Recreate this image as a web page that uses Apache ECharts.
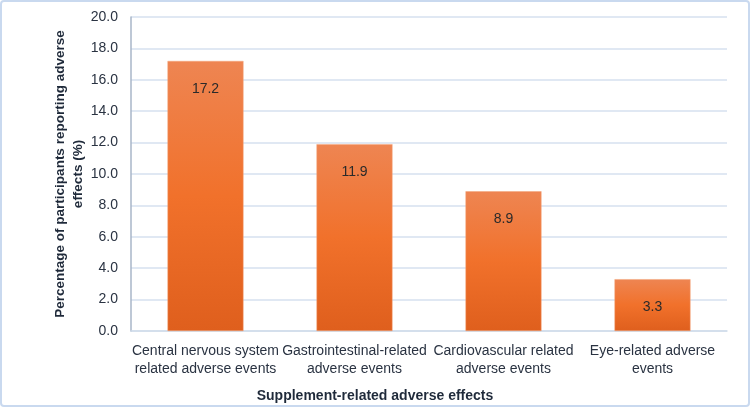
<!DOCTYPE html>
<html><head><meta charset="utf-8">
<script src="https://cdn.jsdelivr.net/npm/echarts@6/dist/echarts.min.js"></script>
<style>html,body{margin:0;padding:0;background:#fff}
#c{position:absolute;left:0;top:0;width:746px;height:403px;border:2px solid #c9d9ef;border-radius:4px}</style>
</head><body><div id="c"></div>
<script>
const categories = ["Central nervous system\nrelated adverse events","Gastrointestinal-related\nadverse events","Cardiovascular related\nadverse events","Eye-related adverse\nevents"];
const values = [17.2, 11.9, 8.9, 3.3];
const yTicks = {min:0, max:20, interval:2};
const xName = "Supplement-related adverse effects";
const yName = "Percentage of participants reporting adverse\neffects (%)";

const chart = echarts.init(document.getElementById('c'));
const font = '"Liberation Sans", Arial, sans-serif';
chart.setOption({
  animation:false,
  title:{text:xName,left:'center',top:382,textStyle:{fontFamily:font,fontSize:14,fontWeight:'bold',color:'#1f2a3a'}},
  grid:{left:129,right:21,top:15,bottom:74},
  xAxis:{type:'category',data:categories,
    axisLine:{lineStyle:{color:'#d0dbea',width:1.5}},axisTick:{show:false},
    axisLabel:{fontFamily:font,fontSize:14,color:'#2a3342',margin:11,lineHeight:18,interval:0}},
  yAxis:{type:'value',min:yTicks.min,max:yTicks.max,interval:yTicks.interval,
    name:yName,nameLocation:'middle',nameGap:44,nameMoveOverlap:false,
    nameTextStyle:{fontFamily:font,fontSize:13.5,fontWeight:'bold',color:'#1f2a3a',lineHeight:18},
    axisLine:{show:true,lineStyle:{color:'#a9b6c8',width:1.5}},
    splitLine:{lineStyle:{color:'#d6e0ef',width:1.5}},
    axisLabel:{fontFamily:font,fontSize:14,color:'#2a3342',margin:13,formatter:v=>v.toFixed(1)}},
  series:[{type:'bar',data:values,barWidth:'51%',
    itemStyle:{color:new echarts.graphic.LinearGradient(0,0,0,1,[
      {offset:0,color:'#ee8552'},{offset:0.5,color:'#f1712b'},{offset:1,color:'#df5f1d'}]),
      borderColor:'#f3a57a',borderWidth:0.5},
    label:{show:true,position:'insideTop',distance:21,fontFamily:font,fontSize:14,color:'#2a2a2a',formatter:p=>p.value.toFixed(1)}}]
});
</script></body></html>
